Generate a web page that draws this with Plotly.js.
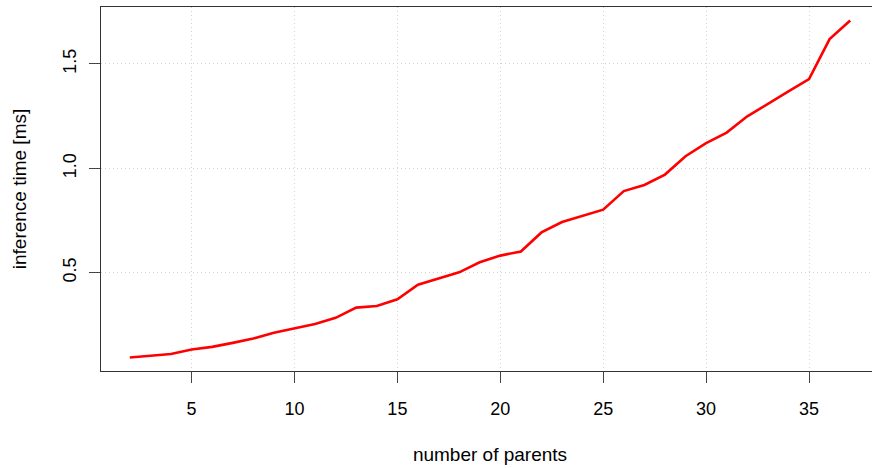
<!DOCTYPE html>
<html>
<head>
<meta charset="utf-8">
<script src="https://cdn.plot.ly/plotly-3.0.1.min.js"></script>
<style>
html, body { margin: 0; padding: 0; overflow: hidden; background: #fff; }
#chart { width: 880px; height: 468px; }
</style>
</head>
<body>
<div id="chart"></div>
<script>
const parents = [2, 3, 4, 5, 6, 7, 8, 9, 10, 11, 12, 13, 14, 15, 16, 17, 18, 19,
                 20, 21, 22, 23, 24, 25, 26, 27, 28, 29, 30, 31, 32, 33, 34, 35, 36, 37];
const inferenceMs = [0.094, 0.103, 0.111, 0.132, 0.145, 0.164, 0.185, 0.213, 0.234, 0.254, 0.284, 0.333,
                     0.341, 0.373, 0.443, 0.472, 0.502, 0.550, 0.582, 0.602, 0.693, 0.743, 0.772, 0.802,
                     0.891, 0.920, 0.970, 1.058, 1.121, 1.171, 1.249, 1.310, 1.368, 1.427, 1.619, 1.708];
const xTicks = [5, 10, 15, 20, 25, 30, 35];
const yTicks = [0.5, 1.0, 1.5];
const yTickLabels = ["0.5", "1.0", "1.5"];

function padRange(arr) {
  const lo = Math.min(...arr), hi = Math.max(...arr);
  const p = (hi - lo) * 0.04;
  return [lo - p, hi + p];
}

const font = { family: "Liberation Sans, Arial, sans-serif", size: 18, color: "#000" };
const titleFont = { family: "Liberation Sans, Arial, sans-serif", size: 19, color: "#000" };

const trace = {
  x: parents, y: inferenceMs, type: "scatter", mode: "lines",
  line: { color: "#ff0000", width: 2.6 },
  hoverinfo: "none"
};

const layout = {
  width: 880, height: 468,
  margin: { l: 101, r: 1, t: 7, b: 97 },
  paper_bgcolor: "#fff", plot_bgcolor: "#fff",
  showlegend: false,
  font: font,
  xaxis: {
    range: padRange(parents),
    tickmode: "array", tickvals: xTicks, ticktext: xTicks.map(String),
    ticks: "outside", ticklen: 11, tickwidth: 1, tickcolor: "#444",
    ticklabelstandoff: 10,
    showline: true, linecolor: "#333", linewidth: 1, mirror: true,
    showgrid: true, gridcolor: "#d3d3d3", griddash: "1px,3px", gridwidth: 1,
    zeroline: false,
    tickfont: font,
    title: { text: "number of parents", font: titleFont, standoff: 30 }
  },
  yaxis: {
    range: padRange(inferenceMs),
    tickmode: "array", tickvals: yTicks, ticktext: yTickLabels,
    tickangle: -90,
    ticks: "outside", ticklen: 11, tickwidth: 1, tickcolor: "#444",
    ticklabelstandoff: 6,
    showline: true, linecolor: "#333", linewidth: 1, mirror: true,
    showgrid: true, gridcolor: "#d3d3d3", griddash: "1px,3px", gridwidth: 1,
    zeroline: false,
    tickfont: font,
    title: { text: "inference time [ms]", font: titleFont, standoff: 28 }
  }
};

Plotly.newPlot("chart", [trace], layout, { displayModeBar: false, staticPlot: true });
</script>
</body>
</html>
